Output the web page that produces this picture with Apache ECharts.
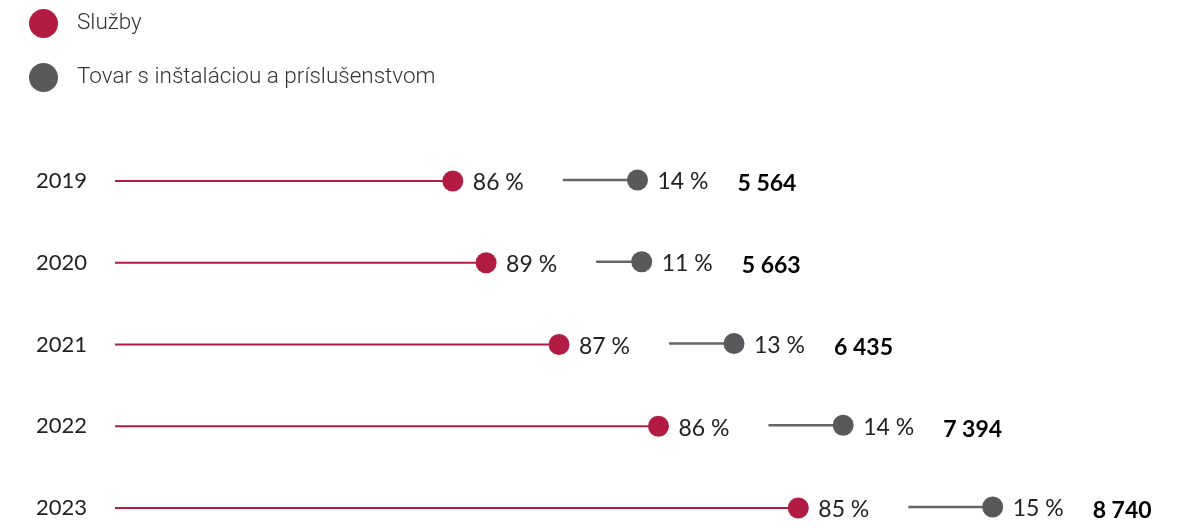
<!DOCTYPE html>
<html>
<head>
<meta charset="utf-8">
<script src="https://cdn.jsdelivr.net/npm/echarts@6/dist/echarts.min.js"></script>
<style>
  html, body { margin: 0; padding: 0; background: #fff; }
  #chart { width: 1180px; height: 528px; }
</style>
</head>
<body>
<div id="chart"></div>
<script>
// údaje
var years = ["2019", "2020", "2021", "2022", "2023"];
var servicesShare = [86, 89, 87, 86, 85];
var goodsShare = [14, 11, 13, 14, 15];
var totals = [5564, 5663, 6435, 7394, 8740];

var RED = "#b31c42";
var GRAY = "#58595b";

function fmt(n) {
  return String(n).replace(/\B(?=(\d{3})+(?!\d))/g, "\u00a0");
}

var servicesData = years.map(function (y, i) {
  return [Math.round(totals[i] * servicesShare[i] / 100), y, servicesShare[i]];
});
var goodsData = years.map(function (y, i) {
  return [Math.round(totals[i] * servicesShare[i] / 100), y, goodsShare[i], totals[i]];
});

var chart = echarts.init(document.getElementById("chart"));

chart.setOption({
  animation: false,
  legend: {
    orient: "vertical",
    left: 24,
    top: 4,
    itemWidth: 29,
    itemHeight: 29,
    itemGap: 25,
    icon: "circle",
    textStyle: {
      fontFamily: "Roboto",
      fontWeight: 300,
      fontSize: 22.5,
      color: "#333",
      padding: [2, 0, 0, 14],
    },
    selectedMode: false,
  },
  grid: {
    left: 115,
    right: 0,
    top: 181,
    bottom: 20,
  },
  xAxis: {
    type: "value",
    min: 2200,
    max: 10350,
    show: false,
  },
  yAxis: {
    type: "category",
    data: years,
    inverse: true,
    boundaryGap: false,
    axisLine: { show: false },
    axisTick: { show: false },
    splitLine: { show: false },
    axisLabel: {
      margin: 28,
      fontFamily: "Lato",
      fontSize: 22,
      color: "#222",
      padding: [4, 0, 0, 0],
    },
  },
  series: [
    {
      name: "Služby",
      type: "custom",
      itemStyle: { color: RED },
      data: servicesData,
      renderItem: function (params, api) {
        var end = api.coord([api.value(0), api.value(1)]);
        var start = api.coord([2200, api.value(1)]);
        return {
          type: "group",
          children: [
            {
              type: "line",
              shape: { x1: start[0], y1: end[1], x2: end[0], y2: end[1] },
              style: { stroke: RED, lineWidth: 2 },
            },
            {
              type: "circle",
              shape: { cx: end[0], cy: end[1], r: 10.5 },
              style: { fill: RED },
            },
            {
              type: "text",
              x: end[0] + 20,
              y: end[1] + 2,
              style: {
                text: api.value(2) + " %",
                fontFamily: "Lato",
                fontSize: 23,
                fill: "#222",
                verticalAlign: "middle",
              },
            },
          ],
        };
      },
    },
    {
      name: "Tovar s inštaláciou a príslušenstvom",
      type: "custom",
      itemStyle: { color: GRAY },
      data: goodsData,
      renderItem: function (params, api) {
        var red = api.coord([api.value(0), api.value(1)]);
        var x0 = red[0] + 110;
        // dĺžka sivej čiary podľa podielu
        var len = (api.value(2) - 6.3) * 9.7;
        var x1 = x0 + len;
        var y = red[1];
        return {
          type: "group",
          children: [
            {
              type: "line",
              shape: { x1: x0, y1: y - 1, x2: x1, y2: y - 1 },
              style: { stroke: "#666", lineWidth: 2.5 },
            },
            {
              type: "circle",
              shape: { cx: x1, cy: y - 1, r: 10.5 },
              style: { fill: GRAY },
            },
            {
              type: "text",
              x: x1 + 20,
              y: y + 1,
              style: {
                text: api.value(2) + " %",
                fontFamily: "Lato",
                fontSize: 23,
                fill: "#222",
                verticalAlign: "middle",
              },
            },
            {
              type: "text",
              x: x1 + 100,
              y: y + 3,
              style: {
                text: fmt(api.value(3)),
                fontFamily: "Lato",
                fontWeight: "bold",
                fontSize: 23,
                fill: "#000",
                verticalAlign: "middle",
              },
            },
          ],
        };
      },
    },
  ],
});
</script>
</body>
</html>
